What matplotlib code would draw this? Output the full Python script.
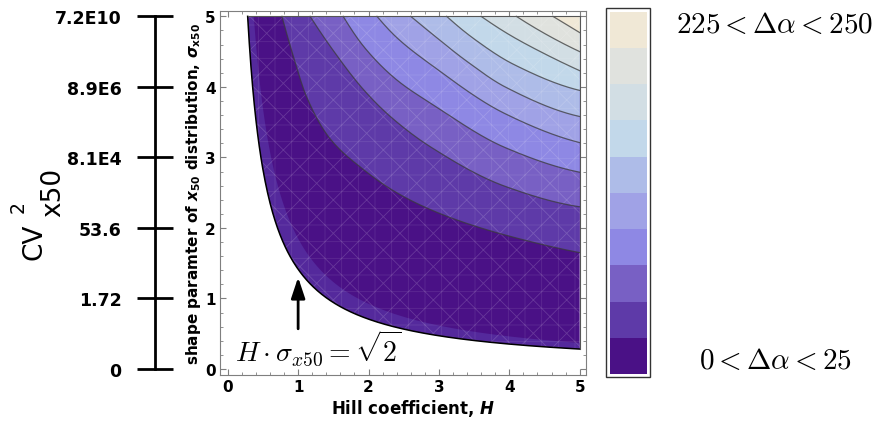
import numpy as np
import matplotlib
matplotlib.use("Agg")
import matplotlib.pyplot as plt
from matplotlib.patches import Rectangle, Polygon
from matplotlib.colors import ListedColormap, BoundaryNorm

# ---------------- data ----------------
levels = [0, 25, 50, 75, 100, 125, 150, 175, 200, 225, 250]
band_colors = ['#4A1186', '#5E3AA8', '#7860C4', '#8E88E4', '#A0A2E6',
               '#AEBCE8', '#C2D8EA', '#D2DEE4', '#E0E2DE', '#F0E8D6']
# contour lines (levels 25..225): (H, sigma) points
line_h = [
    [0.77, 0.93, 1.12, 1.45, 1.90, 2.40, 2.88, 3.35, 3.94, 5.00],
    [1.17, 1.46, 1.93, 2.31, 2.88, 3.94, 5.00],
    [1.64, 1.95, 2.40, 2.88, 3.94, 5.00],
    [2.12, 2.40, 2.88, 3.94, 5.00],
    [2.60, 2.88, 3.40, 3.94, 5.00],
    [3.11, 3.50, 4.06, 5.00],
    [3.60, 4.00, 4.50, 5.00],
    [4.10, 4.55, 5.00],
    [4.62, 5.00],
]
line_s = [
    [5.00, 4.44, 3.86, 3.27, 2.85, 2.50, 2.26, 2.08, 1.90, 1.65],
    [5.00, 4.57, 3.96, 3.58, 3.15, 2.59, 2.30],
    [5.00, 4.55, 4.10, 3.77, 3.14, 2.79],
    [5.00, 4.70, 4.32, 3.62, 3.21],
    [5.00, 4.77, 4.36, 4.00, 3.58],
    [5.00, 4.68, 4.32, 3.95],
    [5.00, 4.74, 4.47, 4.23],
    [5.00, 4.73, 4.50],
    [5.00, 4.77],
]
boundary_product = np.sqrt(2)     # H * sigma = sqrt(2)
strip_product = 1.85              # edge of the lighter strip along the boundary
h_max, s_max = 5.0, 5.0
cv_tick_sigma = [0, 1, 2, 3, 4, 5]
cv_tick_labels = ['0', '1.72', '53.6', '8.1E4', '8.9E6', '7.2E10']
x_ticks = [0, 1, 2, 3, 4, 5]
y_ticks = [0, 1, 2, 3, 4, 5]

plt.rcParams['mathtext.fontset'] = 'custom'
plt.rcParams['mathtext.rm'] = 'DejaVu Sans:bold'
plt.rcParams['mathtext.bf'] = 'DejaVu Sans:bold'
plt.rcParams['mathtext.it'] = 'DejaVu Sans:italic:bold'
plt.rcParams['hatch.linewidth'] = 0.6


def pchip(xs, ys, n=300):
    x = np.asarray(xs, float)
    y = np.asarray(ys, float)
    if len(x) == 2:
        xx = np.linspace(x[0], x[1], n)
        return xx, np.interp(xx, x, y)
    h = np.diff(x)
    d = np.diff(y) / h
    m = np.zeros_like(x)
    for i in range(1, len(x) - 1):
        if d[i - 1] * d[i] <= 0:
            m[i] = 0
        else:
            w1 = 2 * h[i] + h[i - 1]
            w2 = h[i] + 2 * h[i - 1]
            m[i] = (w1 + w2) / (w1 / d[i - 1] + w2 / d[i])

    def endslope(h0, h1, d0, d1):
        s = ((2 * h0 + h1) * d0 - h0 * d1) / (h0 + h1)
        if np.sign(s) != np.sign(d0):
            s = 0
        elif np.sign(d0) != np.sign(d1) and abs(s) > abs(3 * d0):
            s = 3 * d0
        return s
    m[0] = endslope(h[0], h[1], d[0], d[1])
    m[-1] = endslope(h[-1], h[-2], d[-1], d[-2])
    xx = np.linspace(x[0], x[-1], n)
    idx = np.clip(np.searchsorted(x, xx) - 1, 0, len(x) - 2)
    t = (xx - x[idx]) / h[idx]
    h00 = 2 * t ** 3 - 3 * t ** 2 + 1
    h10 = t ** 3 - 2 * t ** 2 + t
    h01 = -2 * t ** 3 + 3 * t ** 2
    h11 = t ** 3 - t ** 2
    yy = h00 * y[idx] + h10 * h[idx] * m[idx] + h01 * y[idx + 1] + h11 * h[idx] * m[idx + 1]
    return xx, yy


W, Hpx = 879, 427
fig = plt.figure(figsize=(W / 100, Hpx / 100), dpi=100)

ax = fig.add_axes([220 / W, 1 - 376 / Hpx, 366 / W, (376 - 11.7) / Hpx])
ax.set_xlim(-0.11, 5.09)
ax.set_ylim(-0.085, 5.08)

# valid region
hb = np.linspace(boundary_product / s_max, h_max, 400)
sb = boundary_product / hb
valid = np.vstack([np.column_stack([hb, sb]), [[h_max, s_max]]])
ax.add_patch(Polygon(valid, closed=True, facecolor=band_colors[0], lw=0, zorder=1))

# lighter strip along boundary
hs = np.linspace(strip_product / s_max, h_max, 400)
ss = strip_product / hs
strip = np.vstack([np.column_stack([hb, sb]), np.column_stack([hs, ss])[::-1]])
strip_poly = Polygon(strip, closed=True, facecolor='#54299C', lw=0, zorder=1.5)
ax.add_patch(strip_poly)
strip_poly.set_clip_path(Polygon(valid, closed=True, transform=ax.transData))

# bands
curves = []
for k, (hx, sy) in enumerate(zip(line_h, line_s)):
    cx, cy = pchip(hx, sy)
    curves.append((cx, cy))
    poly = np.vstack([np.column_stack([cx, cy]), [[h_max, s_max]]])
    ax.add_patch(Polygon(poly, closed=True, facecolor=band_colors[k + 1], lw=0, zorder=2))

# mesh-like texture
for hatch, a in (('x', 0.16), ('+', 0.10)):
    ax.add_patch(Polygon(valid, closed=True, facecolor='none', edgecolor=(1, 1, 1, a),
                         hatch=hatch, lw=0, zorder=3))

for cx, cy in curves:
    ax.plot(cx, cy, color='#3a3a3a', lw=0.9, alpha=0.75, zorder=4)

ax.plot(hb, sb, color='black', lw=1.1, zorder=5)
ax.plot([boundary_product / s_max, h_max, h_max], [s_max, s_max, boundary_product / h_max],
        color='#555555', lw=0.8, zorder=5)

# arrow and equation
ax.annotate('', xy=(1.0, 1.30), xytext=(1.0, 0.57),
            arrowprops=dict(arrowstyle='-|>,head_width=0.3,head_length=0.9', color='black',
                            lw=2, mutation_scale=14, shrinkA=0, shrinkB=0), zorder=6)
ax.text(0.10, 0.12, r'$H \cdot \sigma_{x50} = \sqrt{2}$', fontsize=20,
        math_fontfamily='cm', ha='left', va='baseline', zorder=6)

# axes styling
for sp in ax.spines.values():
    sp.set_color('#7f7f7f')
    sp.set_linewidth(0.8)
ax.set_xticks(x_ticks)
ax.set_yticks(y_ticks)
ax.set_xticks(np.arange(0.0, 5.01, 0.2), minor=True)
ax.set_yticks(np.arange(0.0, 5.01, 0.2), minor=True)
ax.tick_params(which='both', direction='in', top=True, right=True, color='#7f7f7f')
ax.tick_params(which='major', length=4, width=0.8, labelsize=11, pad=3)
ax.tick_params(which='minor', length=2, width=0.6)
for lab in ax.get_xticklabels() + ax.get_yticklabels():
    lab.set_fontweight('bold')
ax.set_xlabel('Hill coefficient, $H$', fontsize=12, fontweight='bold',
              math_fontfamily='custom')
ax.xaxis.set_label_coords((413 - 220) / 366, (376 - 398) / 364.3)
ax.set_ylabel(r'shape paramter of $x_{\mathrm{50}}$ distribution, $\sigma_{\mathrm{x50}}$',
              fontsize=11, fontweight='bold', math_fontfamily='custom')
ax.yaxis.set_label_coords((203 - 220) / 366, 0.5)

# left CV^2 axis
ax2 = fig.add_axes([155 / W, 1 - 376 / Hpx, 0.0005, (376 - 11.7) / Hpx])
ax2.set_ylim(ax.get_ylim())
ax2.set_xticks([])
for name in ('top', 'right', 'bottom'):
    ax2.spines[name].set_visible(False)
ax2.spines['left'].set_linewidth(2)
ax2.spines['left'].set_bounds(0, 5)
ax2.set_yticks(cv_tick_sigma)
ax2.set_yticklabels(cv_tick_labels, fontweight='bold', fontsize=12.5)
ax2.tick_params(axis='y', direction='inout', length=26, width=2, pad=11)
ax2.patch.set_visible(False)

# CV^2_x50 label built from three rotated texts
fig.text(41.7 / W, 1 - 260 / Hpx, 'CV', rotation=90, rotation_mode='anchor',
         ha='left', va='baseline', fontsize=19)
fig.text(23.3 / W, 1 - 213 / Hpx, '2', rotation=90, rotation_mode='anchor',
         ha='left', va='baseline', fontsize=13.5)
fig.text(60 / W, 1 - 217 / Hpx, 'x50', rotation=90, rotation_mode='anchor',
         ha='left', va='baseline', fontsize=19)

# colorbar
cax = fig.add_axes([610 / W, 1 - 375 / Hpx, 37 / W, (375 - 12.7) / Hpx])
cmap = ListedColormap(band_colors)
norm = BoundaryNorm(levels, cmap.N)
mids = np.array([(a + b) / 2 for a, b in zip(levels[:-1], levels[1:])])
cax.pcolormesh([0, 1], levels, mids[:, None], cmap=cmap, norm=norm)
cax.set_xlim(0, 1)
cax.set_ylim(levels[0], levels[-1])
cax.axis('off')
fig.patches.append(Rectangle((606 / W, 1 - 377.7 / Hpx), 44 / W, (377.7 - 9.3) / Hpx,
                             transform=fig.transFigure, facecolor='none',
                             edgecolor='#333333', lw=1))
fig.text(676.5 / W, 1 - 25 / Hpx, r'$225 < \Delta\alpha < 250$', fontsize=21,
         math_fontfamily='cm', ha='left', va='center')
fig.text(776 / W, 1 - 361 / Hpx, r'$0 < \Delta\alpha < 25$', fontsize=21,
         math_fontfamily='cm', ha='center', va='center')

fig.savefig('out.png', dpi=100)
